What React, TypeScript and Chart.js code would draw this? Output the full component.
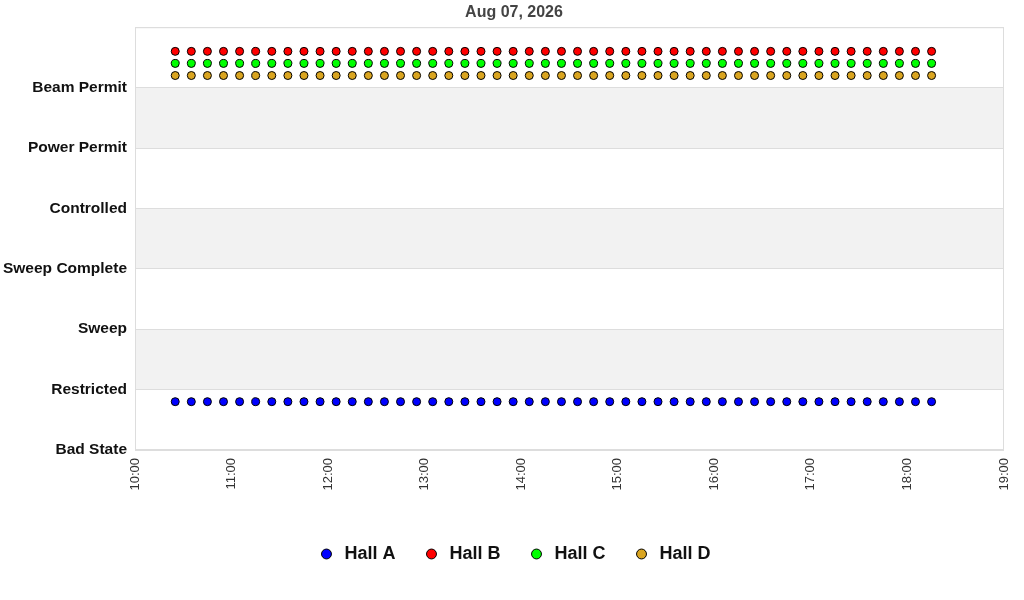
import { useEffect, useRef } from "react";
import { Chart, registerables } from "chart.js";

Chart.register(...registerables);

const stateLabels = ["Bad State", "Restricted", "Sweep", "Sweep Complete", "Controlled", "Power Permit", "Beam Permit"];

const sampleTimes = [
  "10:25", "10:35", "10:45", "10:55", "11:05", "11:15", "11:25", "11:35", "11:45", "11:55",
  "12:05", "12:15", "12:25", "12:35", "12:45", "12:55", "13:05", "13:15", "13:25", "13:35",
  "13:45", "13:55", "14:05", "14:15", "14:25", "14:35", "14:45", "14:55", "15:05", "15:15",
  "15:25", "15:35", "15:45", "15:55", "16:05", "16:15", "16:25", "16:35", "16:45", "16:55",
  "17:05", "17:15", "17:25", "17:35", "17:45", "17:55", "18:05", "18:15",
];

const hallA = [
  0.8, 0.8, 0.8, 0.8, 0.8, 0.8, 0.8, 0.8, 0.8, 0.8, 0.8, 0.8, 0.8, 0.8, 0.8, 0.8,
  0.8, 0.8, 0.8, 0.8, 0.8, 0.8, 0.8, 0.8, 0.8, 0.8, 0.8, 0.8, 0.8, 0.8, 0.8, 0.8,
  0.8, 0.8, 0.8, 0.8, 0.8, 0.8, 0.8, 0.8, 0.8, 0.8, 0.8, 0.8, 0.8, 0.8, 0.8, 0.8,
];
const hallB = [
  6.6, 6.6, 6.6, 6.6, 6.6, 6.6, 6.6, 6.6, 6.6, 6.6, 6.6, 6.6, 6.6, 6.6, 6.6, 6.6,
  6.6, 6.6, 6.6, 6.6, 6.6, 6.6, 6.6, 6.6, 6.6, 6.6, 6.6, 6.6, 6.6, 6.6, 6.6, 6.6,
  6.6, 6.6, 6.6, 6.6, 6.6, 6.6, 6.6, 6.6, 6.6, 6.6, 6.6, 6.6, 6.6, 6.6, 6.6, 6.6,
];
const hallC = [
  6.4, 6.4, 6.4, 6.4, 6.4, 6.4, 6.4, 6.4, 6.4, 6.4, 6.4, 6.4, 6.4, 6.4, 6.4, 6.4,
  6.4, 6.4, 6.4, 6.4, 6.4, 6.4, 6.4, 6.4, 6.4, 6.4, 6.4, 6.4, 6.4, 6.4, 6.4, 6.4,
  6.4, 6.4, 6.4, 6.4, 6.4, 6.4, 6.4, 6.4, 6.4, 6.4, 6.4, 6.4, 6.4, 6.4, 6.4, 6.4,
];
const hallD = [
  6.2, 6.2, 6.2, 6.2, 6.2, 6.2, 6.2, 6.2, 6.2, 6.2, 6.2, 6.2, 6.2, 6.2, 6.2, 6.2,
  6.2, 6.2, 6.2, 6.2, 6.2, 6.2, 6.2, 6.2, 6.2, 6.2, 6.2, 6.2, 6.2, 6.2, 6.2, 6.2,
  6.2, 6.2, 6.2, 6.2, 6.2, 6.2, 6.2, 6.2, 6.2, 6.2, 6.2, 6.2, 6.2, 6.2, 6.2, 6.2,
];

// shaded y ranges (value space)
const bands = [[1, 2], [3, 4], [5, 6]];

const toMinutes = (t: string) => {
  const [h, m] = t.split(":").map(Number);
  return (h - 10) * 60 + m;
};

const fmtTime = (v: number) => {
  const h = 10 + Math.floor(v / 60);
  const m = v % 60;
  return `${h}:${m < 10 ? "0" + m : m}`;
};

const FONT = "'Liberation Sans', Arial, sans-serif";

const plotDecor = {
  id: "plotDecor",
  beforeDraw(chart: any) {
    const { ctx, chartArea, scales } = chart;
    ctx.save();
    ctx.fillStyle = "#f2f2f2";
    bands.forEach(([a, b]) => {
      const top = scales.y.getPixelForValue(b);
      const bottom = scales.y.getPixelForValue(a);
      ctx.fillRect(chartArea.left, top, chartArea.right - chartArea.left, bottom - top);
    });
    ctx.restore();
  },
  beforeDatasetsDraw(chart: any) {
    const { ctx, chartArea } = chart;
    ctx.save();
    ctx.strokeStyle = "#dddddd";
    ctx.lineWidth = 1;
    ctx.strokeRect(chartArea.left + 0.5, chartArea.top + 0.5, chartArea.right - chartArea.left - 1, chartArea.bottom - chartArea.top - 1);
    ctx.restore();
  },
};

const makeSet = (label: string, values: number[], color: string) => ({
  label,
  data: sampleTimes.map((t, i) => ({ x: toMinutes(t), y: values[i] })),
  backgroundColor: color,
  borderColor: "#000000",
  borderWidth: 1,
  pointRadius: 4,
  pointHoverRadius: 4,
  showLine: false,
});

export default function App() {
  const chartRef = useRef<HTMLCanvasElement>(null);

  useEffect(() => {
    if (!chartRef.current) return;
    const chart = new Chart(chartRef.current, {
      type: "scatter",
      data: {
        datasets: [
          makeSet("Hall A", hallA, "#0000ff"),
          makeSet("Hall B", hallB, "#ff0000"),
          makeSet("Hall C", hallC, "#00ff00"),
          makeSet("Hall D", hallD, "#daa520"),
        ],
      },
      options: {
        animation: false,
        responsive: true,
        maintainAspectRatio: false,
        layout: { padding: { left: 24, right: 20, top: 0, bottom: 27 } },
        scales: {
          x: {
            type: "linear",
            min: 0,
            max: 540,
            grid: { display: false, drawTicks: false },
            border: { display: false },
            afterFit: (scale: any) => {
              scale.height = 68;
              scale.paddingLeft = 0;
              scale.paddingRight = 0;
            },
            ticks: {
              stepSize: 60,
              minRotation: 90,
              maxRotation: 90,
              padding: 8,
              color: "#333333",
              font: { family: FONT, size: 13 },
              callback: (v: any) => fmtTime(Number(v)),
            },
          },
          y: {
            min: 0,
            max: 7,
            grid: { color: "#dddddd", drawTicks: false },
            border: { color: "#dddddd" },
            afterFit: (scale: any) => {
              // narrower box; labels overhang to the left, so no label clipping
              scale.width = 111;
              scale._computeLabelArea = () => undefined;
            },
            ticks: {
              stepSize: 1,
              padding: 8,
              color: "#111111",
              font: { family: FONT, size: 15.5, weight: "bold" },
              callback: (v: any) => stateLabels[Number(v)] ?? "",
            },
          },
        },
        plugins: {
          title: {
            display: true,
            text: "Aug 07, 2026",
            color: "#444444",
            font: { family: FONT, size: 16, weight: "bold" },
            padding: { top: 3, bottom: 5 },
          },
          legend: {
            position: "bottom",
            labels: {
              usePointStyle: true,
              pointStyle: "circle",
              boxWidth: 18,
              boxHeight: 7,
              padding: 27,
              color: "#111111",
              font: { family: FONT, size: 18, weight: "bold" },
            },
          },
          tooltip: { enabled: false },
        },
      },
      plugins: [plotDecor],
    });
    return () => chart.destroy();
  }, []);

  return (
    <div style={{ position: "absolute", left: 0, top: 0, width: 1024, height: 600, background: "#fff" }}>
      <canvas ref={chartRef}></canvas>
    </div>
  );
}
